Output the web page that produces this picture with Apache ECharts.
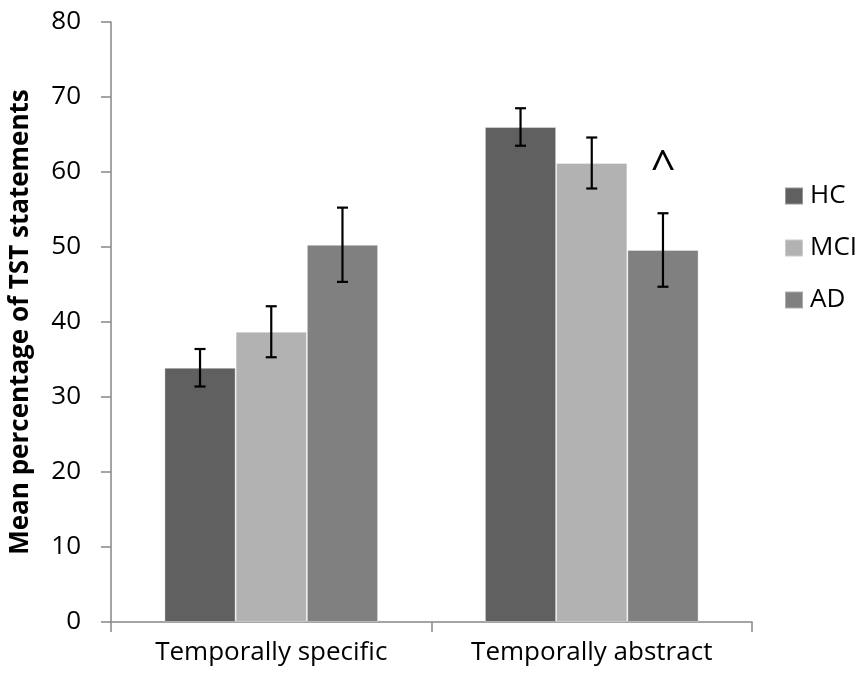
<!DOCTYPE html>
<html>
<head>
<meta charset="utf-8">
<script src="https://cdn.jsdelivr.net/npm/echarts@6/dist/echarts.min.js"></script>
<style>
  html, body { margin: 0; padding: 0; background: #fff; }
  #chart { width: 863px; height: 678px; }
</style>
</head>
<body>
<div id="chart"></div>
<script>
// Categories of temporal statements
const categories = ['Temporally specific', 'Temporally abstract'];
// Group names
const groups = ['HC', 'MCI', 'AD'];
// Mean percentage per group, one entry per category
const hcMeans = [33.9, 66.0];
const mciMeans = [38.7, 61.2];
const adMeans = [50.3, 49.6];
// Standard error per group, one entry per category
const hcErr = [2.5, 2.5];
const mciErr = [3.4, 3.4];
const adErr = [4.95, 4.9];
// Y axis ticks
const yMin = 0, yMax = 80, yStep = 10;
// Significance marker above AD, temporally abstract
const markerText = '^';
const markerCategory = 1;
const markerValue = 60.4;

const colors = ['#606060', '#b2b2b2', '#808080'];
const FONT = '"Open Sans", sans-serif';
const catGap = 1 / 3; // barCategoryGap fraction

const means = [hcMeans, mciMeans, adMeans];
const errs = [hcErr, mciErr, adErr];

const barSeries = groups.map((g, i) => ({
  name: g,
  type: 'bar',
  data: means[i],
  barGap: '0%',
  barCategoryGap: '33.33%',
  itemStyle: { color: colors[i], borderColor: 'rgba(255,255,255,0.35)', borderWidth: 1 },
  emphasis: { disabled: true },
  z: 2
}));

const errSeries = groups.map((g, i) => ({
  type: 'custom',
  name: g + ' error',
  data: categories.map((c, k) => [k, means[i][k] - errs[i][k], means[i][k] + errs[i][k]]),
  z: 5,
  silent: true,
  renderItem: function (params, api) {
    const band = api.size([1, 0])[0];
    const barW = band * (1 - catGap) / groups.length;
    const center = api.coord([api.value(0), 0])[0] + (i - (groups.length - 1) / 2) * barW;
    const lo = api.coord([api.value(0), api.value(1)])[1];
    const hi = api.coord([api.value(0), api.value(2)])[1];
    const cap = 5.5;
    const st = { stroke: '#000', lineWidth: 2.2 };
    return {
      type: 'group',
      children: [
        { type: 'line', shape: { x1: center, y1: lo, x2: center, y2: hi }, style: st },
        { type: 'line', shape: { x1: center - cap, y1: lo, x2: center + cap, y2: lo }, style: st },
        { type: 'line', shape: { x1: center - cap, y1: hi, x2: center + cap, y2: hi }, style: st }
      ]
    };
  }
}));

// Marker drawn at the AD position of its category
const markerSeries = {
  type: 'custom',
  name: 'marker',
  data: [[markerCategory, markerValue]],
  z: 6,
  silent: true,
  renderItem: function (params, api) {
    const band = api.size([1, 0])[0];
    const barW = band * (1 - catGap) / groups.length;
    const x = api.coord([api.value(0), 0])[0] + barW;
    const y = api.coord([api.value(0), api.value(1)])[1];
    return {
      type: 'text',
      style: {
        text: markerText, x: x, y: y,
        textAlign: 'center', textVerticalAlign: 'middle',
        font: '44px ' + FONT, fill: '#000'
      }
    };
  }
};

const chart = echarts.init(document.getElementById('chart'), null, { renderer: 'canvas' });
chart.setOption({
  animation: false,
  backgroundColor: '#ffffff',
  grid: { left: 108, right: 111, top: 22, bottom: 56, containLabel: false },
  legend: {
    data: groups,
    orient: 'vertical',
    left: 779,
    top: 178,
    itemWidth: 18,
    itemHeight: 17,
    itemGap: 26,
    icon: 'rect',
    textStyle: { fontFamily: FONT, fontSize: 26, color: '#000', padding: [0, 0, 0, 2] },
    selectedMode: false
  },
  xAxis: {
    type: 'category',
    data: categories,
    axisLine: { lineStyle: { color: '#868686', width: 1.5 } },
    axisTick: { show: true, length: 10, alignWithLabel: false, lineStyle: { color: '#868686', width: 1.5 } },
    axisLabel: { fontFamily: FONT, fontSize: 26, color: '#000', margin: 18 },
    splitLine: { show: false }
  },
  yAxis: {
    type: 'value',
    min: yMin, max: yMax, interval: yStep,
    name: 'Mean percentage of TST statements',
    nameLocation: 'middle',
    nameGap: 77,
    nameTextStyle: { fontFamily: FONT, fontSize: 26, fontWeight: 'bold', color: '#000' },
    axisLine: { show: true, lineStyle: { color: '#868686', width: 1.5 } },
    axisTick: { show: true, length: 10, lineStyle: { color: '#868686', width: 1.5 } },
    axisLabel: { fontFamily: FONT, fontSize: 26, color: '#000', margin: 30 },
    splitLine: { show: false }
  },
  series: [...barSeries, ...errSeries, markerSeries]
});
</script>
</body>
</html>
